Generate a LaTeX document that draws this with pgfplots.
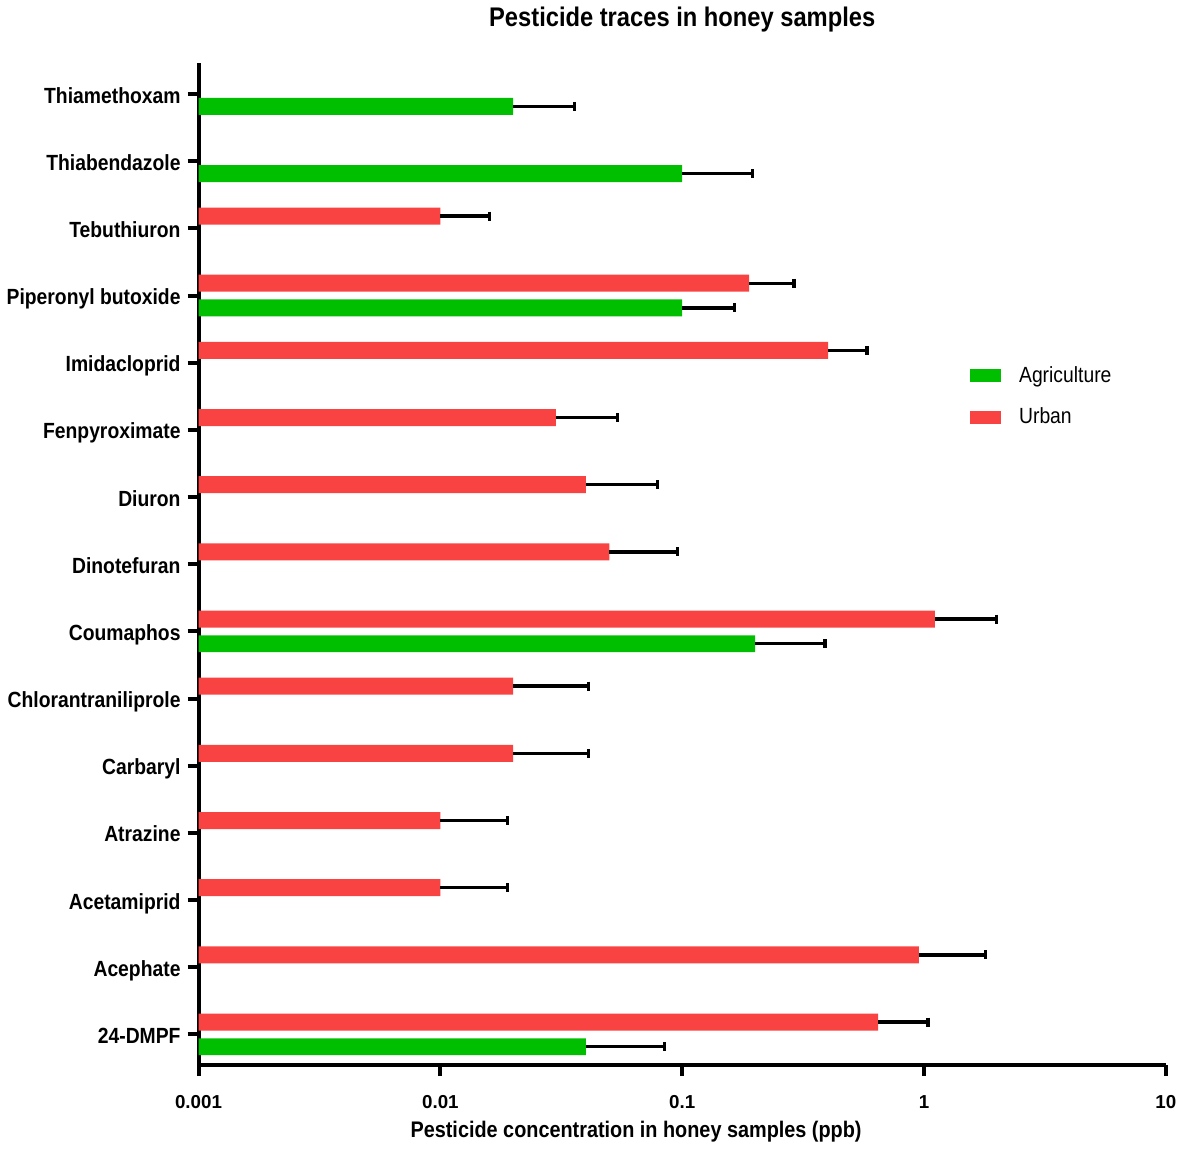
\documentclass[border=0pt]{standalone}
\usepackage{fontspec}
\setmainfont{Liberation Sans}[FakeStretch=0.88]
\newfontfamily\plainsans{Liberation Sans}
\usepackage{pgfplots}
\usepackage{pgfplotstable}
\pgfplotsset{compat=1.18}

\definecolor{agri}{RGB}{0,191,0}
\definecolor{urban}{RGB}{249,66,66}

% mean concentration (ppb) and upper error, per pesticide index
\pgfplotstableread{
pos val err
14 0.0200 0.0159
13 0.1000 0.0949
11 0.1000 0.0642
6  0.2000 0.1900
0  0.0400 0.0445
}\agridata

\pgfplotstableread{
pos val err
12 0.0100 0.0060
11 0.1890 0.1010
10 0.4010 0.1800
9  0.0300 0.0241
8  0.0400 0.0390
7  0.0500 0.0456
6  1.1090 0.8870
5  0.0200 0.0210
4  0.0200 0.0210
3  0.0100 0.0090
2  0.0100 0.0090
1  0.9520 0.8480
0  0.6450 0.3920
}\urbandata

\begin{document}
\begin{tikzpicture}
\begin{axis}[
  scale only axis,
  width=484.75pt, height=502.25pt,
  xmode=log, log origin x=infty,
  xmin=0.001, xmax=10,
  ymin=-0.458, ymax=14.465,
  axis lines=left,
  axis line style={-, line width=2pt, black},
  every outer x axis line/.append style={line width=2pt},
  every outer y axis line/.append style={line width=2pt},
  xtick={0.001,0.01,0.1,1,10},
  xticklabels={0.001,0.01,0.1,1,10},
  xminorticks=false,
  ytick={0,...,14},
  yticklabels={24-DMPF,Acephate,Acetamiprid,Atrazine,Carbaryl,Chlorantraniliprole,Coumaphos,Dinotefuran,Diuron,Fenpyroximate,Imidacloprid,Piperonyl butoxide,Tebuthiuron,Thiabendazole,Thiamethoxam},
  tick align=outside,
  major tick length=5.5pt,
  every tick/.style={line width=2pt, black},
  major tick style={line width=2pt, black},
  xticklabel style={font=\plainsans\bfseries\fontsize{9.4}{11}\selectfont, yshift=-6pt},
  yticklabel style={font=\bfseries\fontsize{11}{13}\selectfont, anchor=base east, yshift=-4.5pt},
  /pgf/number format/assume math mode=true,
  xbar,
  bar width=0.2526,
  clip=false,
  legend cell align=left,
  legend style={at={(rel axis cs:0.7973,0.667)}, anchor=west,
    draw=none, fill=none, inner sep=0pt,
    nodes={inner sep=0pt},
    column sep=9pt, row sep=11.5pt,
    font=\fontsize{11}{13}\selectfont},
  error bars/error bar style={line width=1.7pt, black},
  error bars/error mark=|,
  error bars/error mark options={line width=1.7pt, black, mark size=2.25pt},
]
\addplot[draw=none, fill=agri, bar shift=-0.184,
  legend image code/.code={\fill[agri] (0pt,-3.25pt) rectangle (15.5pt,3.25pt);},
  error bars/.cd, x dir=plus, x explicit]
  table[x=val, y=pos, x error=err] {\agridata};
\addlegendentry{Agriculture}
\addplot[draw=none, fill=urban, bar shift=0.184,
  legend image code/.code={\fill[urban] (0pt,-3.25pt) rectangle (15.5pt,3.25pt);},
  error bars/.cd, x dir=plus, x explicit]
  table[x=val, y=pos, x error=err] {\urbandata};
\addlegendentry{Urban}

% titles
\node[anchor=base, font=\bfseries\fontsize{13.5}{16}\selectfont]
  at (rel axis cs:0.5,1.0358) {Pesticide traces in honey samples};
\node[anchor=base, font=\bfseries\fontsize{11.3}{13}\selectfont]
  at (rel axis cs:0.4523,-0.0722) {Pesticide concentration in honey samples (ppb)};
% page extent
\path (rel axis cs:-0.2042,-0.0831) rectangle (rel axis cs:1.016,1.0627);
\end{axis}
\end{tikzpicture}
\end{document}
